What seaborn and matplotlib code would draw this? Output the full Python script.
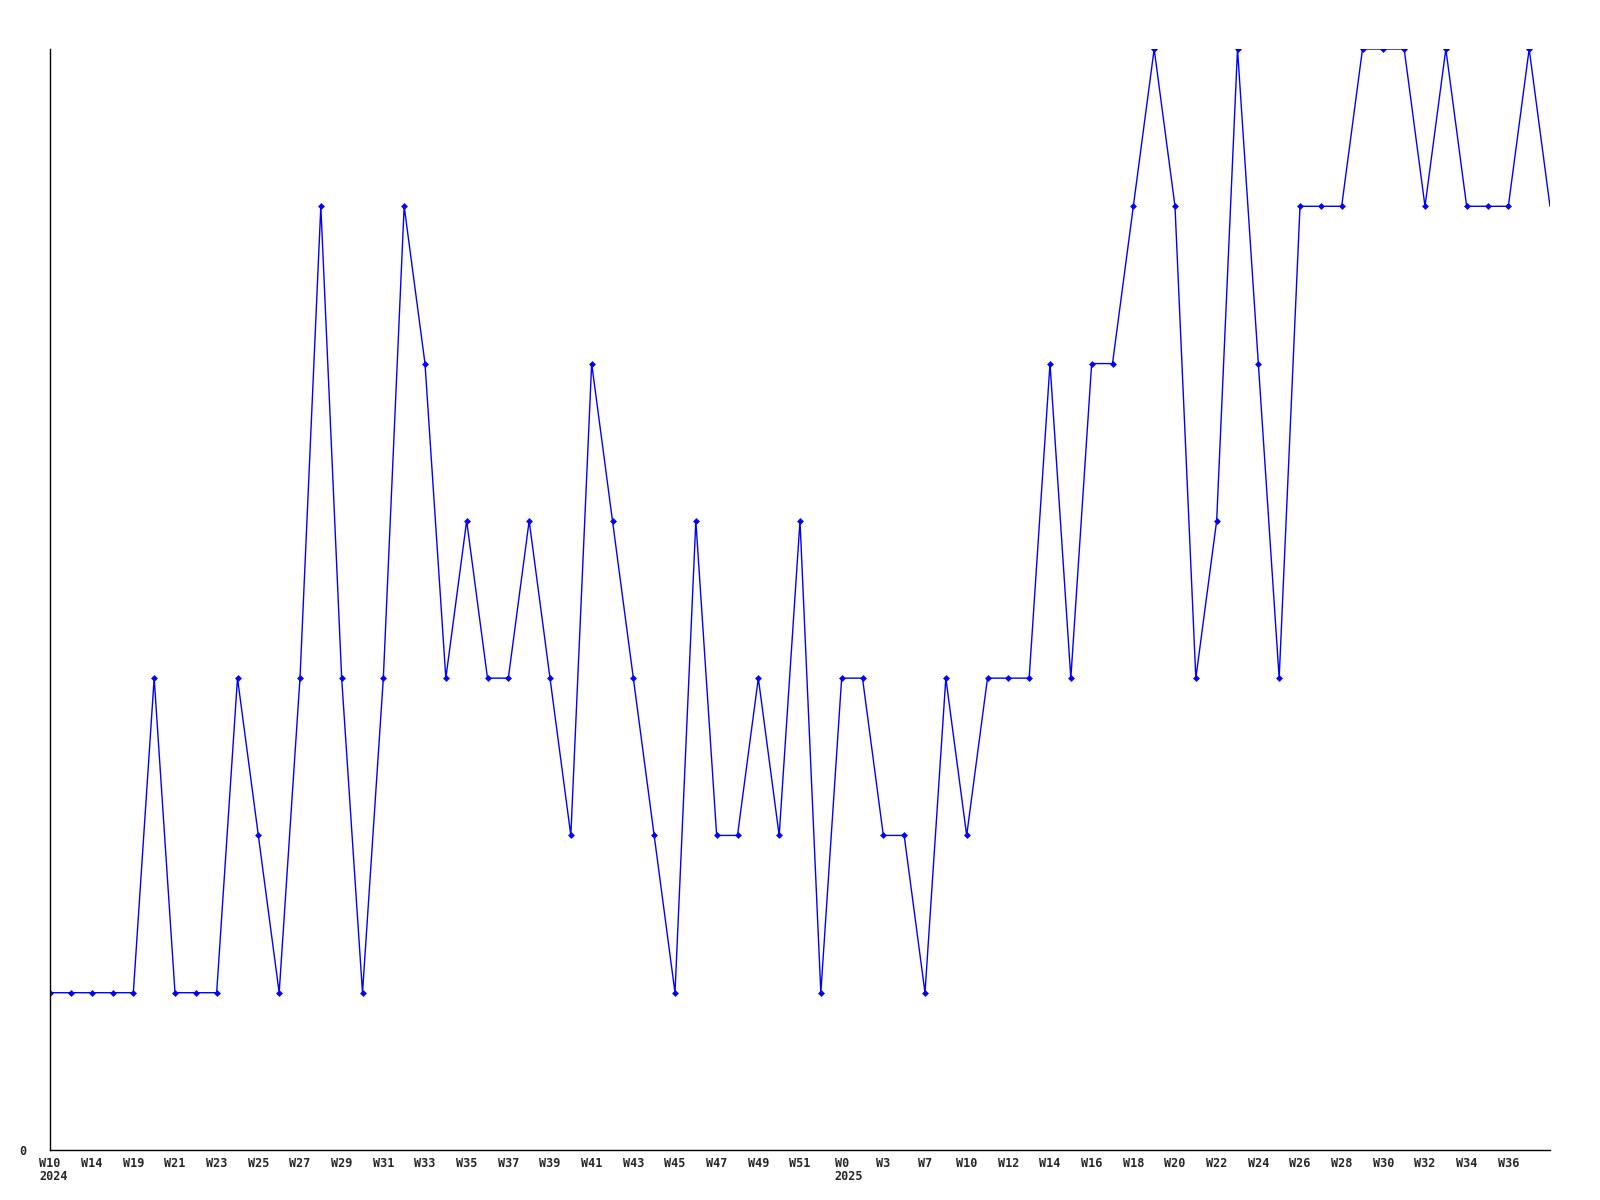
import matplotlib
matplotlib.use("Agg")
import matplotlib.pyplot as plt
import seaborn as sns
import pandas as pd

values = [1, 1, 1, 1, 1, 3, 1, 1, 1, 3, 2, 1, 3, 6, 3, 1, 3, 6, 5, 3,
          4, 3, 3, 4, 3, 2, 5, 4, 3, 2, 1, 4, 2, 2, 3, 2, 4, 1, 3, 3,
          2, 2, 1, 3, 2, 3, 3, 3, 5, 3, 5, 5, 6, 7, 6, 3, 4, 7, 5, 3,
          6, 6, 6, 7, 7, 7, 6, 7, 6, 6, 6, 7, 6]

tick_labels = ["W10", "W14", "W19", "W21", "W23", "W25", "W27", "W29", "W31",
               "W33", "W35", "W37", "W39", "W41", "W43", "W45", "W47", "W49", "W51",
               "W0", "W3", "W7", "W10", "W12", "W14", "W16", "W18", "W20",
               "W22", "W24", "W26", "W28", "W30", "W32", "W34", "W36"]

years = ["2024", "2025"]
year_label_index = [0, 19]  # index into tick_labels where a new year starts

df = pd.DataFrame({"idx": range(len(values)), "value": values})

sns.set_style("white")
plt.rcParams["font.family"] = ["DejaVu Sans Mono"]

fig = plt.figure(figsize=(16, 12), dpi=100)
L, R, B, T = 50, 1550, 1150, 49
ax = fig.add_axes([L/1600, 1 - B/1200, (R - L)/1600, (B - T)/1200])

sns.lineplot(data=df, x="idx", y="value", ax=ax, color="#0000ff", linewidth=1.0,
             marker="D", markersize=3.5, markeredgewidth=0,
             markevery=list(range(len(values) - 1)))

ax.set_xlim(0, len(values) - 1)
ax.set_ylim(0, 7)
ax.set_xlabel("")
ax.set_ylabel("")

tick_pos = list(range(0, len(values), 2))[:len(tick_labels)]
ax.set_xticks(tick_pos)
ax.set_xticklabels(tick_labels, fontsize=8.5, fontweight="bold")

char_w = 0.602 * 8.5 * 100 / 72
for yr, li in zip(years, year_label_index):
    w = len(tick_labels[li]) * char_w
    ax.annotate(yr, xy=(tick_pos[li], 0), xycoords="data",
                xytext=(-w / 2, -27), textcoords="offset pixels",
                ha="left", va="center", fontsize=8.5, fontweight="bold",
                annotation_clip=False)

ax.set_yticks([0])
ax.set_yticklabels(["0"], fontsize=8.5, fontweight="bold")
ax.tick_params(axis="both", length=0)
ax.tick_params(axis="x", pad=5)
ax.tick_params(axis="y", pad=17)

for s in ["top", "right"]:
    ax.spines[s].set_visible(False)
for s in ["left", "bottom"]:
    ax.spines[s].set_color("black")
    ax.spines[s].set_linewidth(1.0)

fig.savefig("out.png", dpi=100, facecolor="white")
